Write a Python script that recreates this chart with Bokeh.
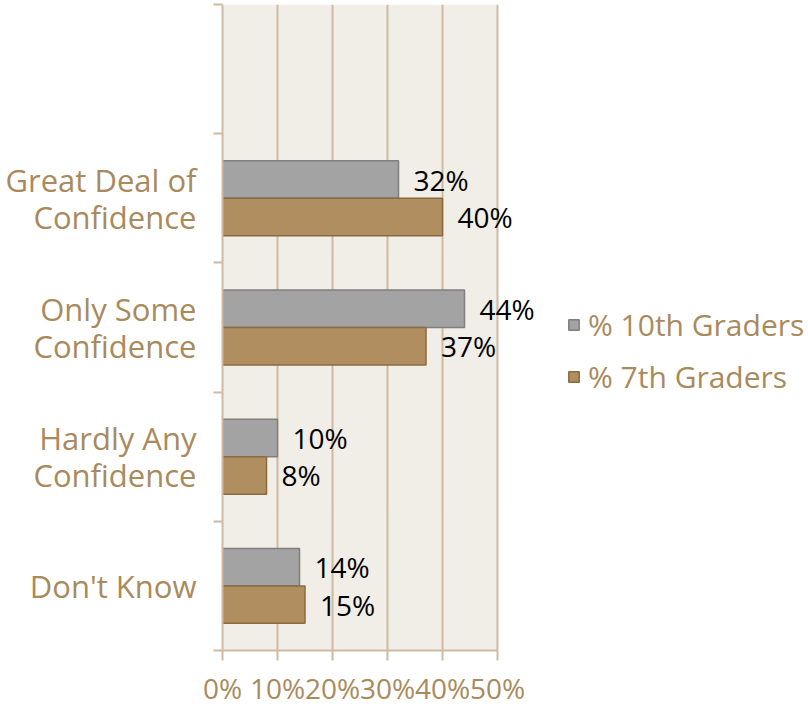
from bokeh.plotting import figure
from bokeh.models import (Range1d, FixedTicker, PrintfTickFormatter, ColumnDataSource,
                          LabelSet, Legend, LegendItem, BoxAnnotation)
from bokeh.core.properties import value
from bokeh.embed import file_html
from bokeh.resources import INLINE

# ---- data ----
categories = ["Don't Know", "Hardly Any\nConfidence", "Only Some\nConfidence", "Great Deal of\nConfidence"]
tenth = [14, 10, 44, 32]
seventh = [15, 8, 37, 40]
series_names = ["% 10th Graders", "% 7th Graders"]
x_ticks = [0, 10, 20, 30, 40, 50]
x_max = 50

TAN = "#A98A5D"
GRID = "#CFBAA1"
BG = "#F1EDE7"
GRAY, GRAY_EDGE = "#A3A3A3", "#7F7F7F"
BROWN, BROWN_EDGE = "#B18E60", "#8A6A40"
FONT = "Open Sans"

W, H = 808, 709
LEFT, TOP, BOTTOM, RIGHT = 222, 4, 56, 0
PLOT_W = 275                       # pixel width of the 0..50% area
frame_w = W - LEFT - RIGHT
x_end = x_max * frame_w / PLOT_W   # extra room right of 50% holds labels + legend

n_slots = len(categories) + 1
bar_h = 0.29
centers = [i + 0.5 for i in range(len(categories))]

p = figure(width=W, height=H, output_backend="svg", toolbar_location=None,
           x_range=Range1d(0, x_end), y_range=Range1d(0, n_slots),
           min_border_left=LEFT, min_border_right=RIGHT, min_border_top=TOP,
           min_border_bottom=BOTTOM)
p.outline_line_color = None
p.background_fill_color = "white"
p.border_fill_color = "white"

p.add_layout(BoxAnnotation(left=0, right=x_max, fill_color=BG, fill_alpha=1,
                           line_color=None, level="image"))

src_g = ColumnDataSource(dict(y=[c + bar_h / 2 for c in centers], x=tenth,
                              t=[f"{v}%" for v in tenth]))
src_b = ColumnDataSource(dict(y=[c - bar_h / 2 for c in centers], x=seventh,
                              t=[f"{v}%" for v in seventh]))

r_g = p.hbar(y="y", right="x", left=0, height=bar_h, source=src_g,
             fill_color=GRAY, line_color=GRAY_EDGE, line_width=1.5)
r_b = p.hbar(y="y", right="x", left=0, height=bar_h, source=src_b,
             fill_color=BROWN, line_color=BROWN_EDGE, line_width=1.5)

for s in (src_g, src_b):
    p.add_layout(LabelSet(x="x", y="y", text="t", source=s, x_offset=15,
                          text_baseline="middle", text_align="left",
                          text_font=value(FONT), text_font_size=value("28px"),
                          text_color=value("#000000")))

# x axis
xa = p.xaxis[0]
xa.ticker = FixedTicker(ticks=x_ticks)
xa.bounds = (0, x_max)
xa.formatter = PrintfTickFormatter(format="%d%%")
xa.axis_line_color = GRID
xa.axis_line_width = 2
xa.major_tick_line_color = GRID
xa.major_tick_line_width = 2
xa.major_tick_out = 10
xa.major_tick_in = 0
xa.minor_tick_line_color = None
xa.major_label_text_font = FONT
xa.major_label_text_font_size = "28px"
xa.major_label_text_color = TAN
xa.major_label_standoff = 8

# y axis
ya = p.yaxis[0]
ya.ticker = FixedTicker(ticks=centers, minor_ticks=list(range(n_slots + 1)))
ya.major_label_overrides = {c: lab for c, lab in zip(centers, categories)}
ya.axis_line_color = GRID
ya.axis_line_width = 2
ya.major_tick_line_color = None
ya.major_tick_out = 0
ya.major_tick_in = 0
ya.minor_tick_line_color = GRID
ya.minor_tick_line_width = 2
ya.minor_tick_out = 9
ya.minor_tick_in = 0
ya.major_label_text_font = FONT
ya.major_label_text_font_size = "31px"
ya.major_label_text_color = TAN
ya.major_label_standoff = 17
ya.major_label_text_line_height = 0.88

p.xgrid.ticker = FixedTicker(ticks=x_ticks)
p.xgrid.grid_line_color = GRID
p.xgrid.grid_line_width = 2
p.ygrid.grid_line_color = None

legend = Legend(items=[LegendItem(label=series_names[0], renderers=[r_g]),
                       LegendItem(label=series_names[1], renderers=[r_b])],
                location=(345, 253), orientation="vertical",
                background_fill_alpha=0, border_line_color=None,
                padding=0, margin=0, spacing=11,
                glyph_width=13, glyph_height=13, label_standoff=8,
                label_text_font=FONT, label_text_font_size="30px", label_text_color=TAN)
p.add_layout(legend, "center")

open("out.html", "w").write(file_html(p, INLINE))
